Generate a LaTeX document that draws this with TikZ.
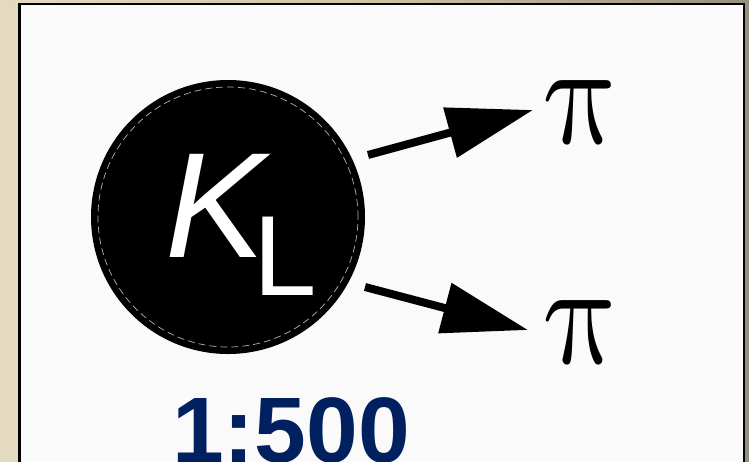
\documentclass[tikz,border=0pt]{standalone}
\usepackage{fontspec}
\setmainfont{Liberation Sans}
\usetikzlibrary{arrows.meta}
\definecolor{bgA}{HTML}{E4DAC0}
\definecolor{bgB}{HTML}{CFC3A2}
\definecolor{bgC}{HTML}{958F7F}
\definecolor{panel}{HTML}{FAFAFA}
\definecolor{ratio}{HTML}{002060}
\tikzset{
  decay/.style={line width=8pt, -{Triangle[length=86pt,width=50pt]}},
  pion/.style={inner sep=0pt, transform shape, xslant=-0.18},
}
\begin{document}
\begin{tikzpicture}[x=1pt,y=-1pt]
\useasboundingbox (0,0) rectangle (749,461);
\begin{scope}
\clip (0,0) rectangle (749,461);
\shade[left color=bgA, right color=bgC, middle color=bgB] (0,0) rectangle (749,461);
\fill[bgA] (0,4) rectangle (19,461);
\fill[panel, draw=black, line width=2.6pt] (19.5,4) rectangle (744,480);
% kaon
\node[circle, fill=black, minimum size=274pt, inner sep=0pt] (k) at (228,217) {};
\draw[white!70!black, line width=0.7pt, dash pattern=on 7pt off 4pt] (k.center) circle (130pt);
\node[anchor=base, white, inner sep=0pt, font=\fontsize{150}{150}\selectfont\itshape] (kk) at (216,257) {K};
\node[anchor=base west, white, inner sep=0pt, font=\fontsize{114}{114}\selectfont] (kl) at (253,295) {L};
% pions
\node[pion, anchor=base west] (p1) at (550,143) {\scalebox{12.6}[14.6]{$\pi$}};
\node[pion, anchor=base west] (p2) at (550,363) {\scalebox{12.6}[14.6]{$\pi$}};
\coordinate (s1) at (368,155);
\coordinate (t1) at (533,110);
\coordinate (s2) at (365,287);
\coordinate (t2) at (528,330);
\draw[decay] (s1) -- (t1);
\draw[decay] (s2) -- (t2);
% ratio
\node[anchor=base, inner sep=0pt, text=ratio, font=\fontsize{93}{93}\selectfont\bfseries] (r) at (291,462) {1:500};
\end{scope}
\end{tikzpicture}
\end{document}
